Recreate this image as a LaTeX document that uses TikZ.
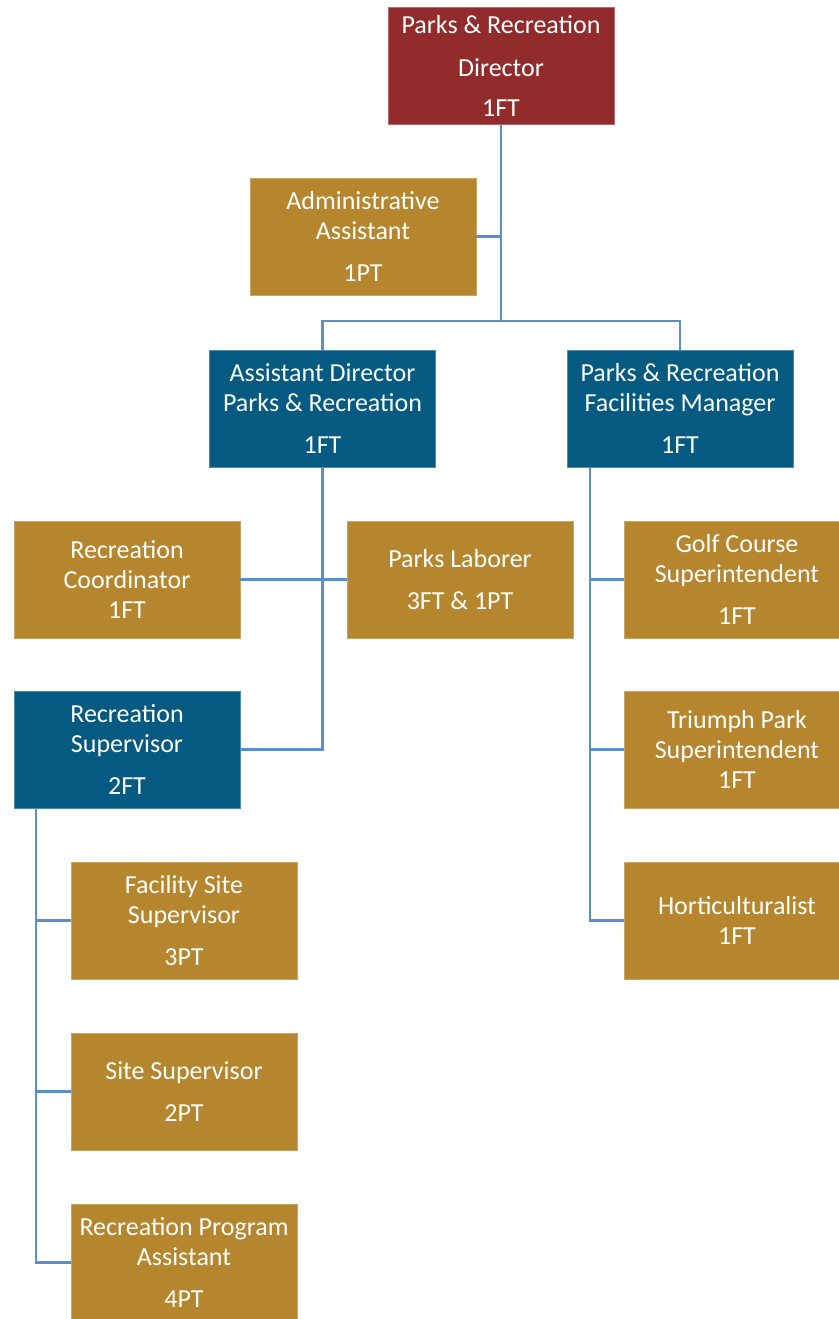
\documentclass[tikz,border=0pt]{standalone}
\usepackage{fontspec}
\setmainfont{Carlito}
\definecolor{dirred}{HTML}{922B2B}
\definecolor{mgrblue}{HTML}{045A80}
\definecolor{staffgold}{HTML}{B5862D}
\definecolor{linkblue}{HTML}{5B8FC9}
\begin{document}
\begin{tikzpicture}[x=1pt,y=-1pt,
  box/.style={rectangle, minimum width=226pt, minimum height=117pt, inner sep=0pt,
    align=center, text=white, font=\fontsize{26}{30}\selectfont, line width=0.8pt},
  redbox/.style={box, fill=dirred, draw=dirred!70!white},
  bluebox/.style={box, fill=mgrblue, draw=mgrblue!70!white},
  goldbox/.style={box, fill=staffgold, draw=staffgold!75!white},
  conn/.style={draw=linkblue, line width=2.2pt}]
\useasboundingbox (0,0) rectangle (838,1319);

% director and direct report
\node[redbox]  (dir)   at (501,66)    {Parks \& Recreation\\[13pt]Director\\[10pt]1FT};
\node[goldbox] (admin) at (363,236.5) {Administrative\\Assistant\\[12pt]1PT};

% managers
\node[bluebox] (ad) at (322.5,408.5) {Assistant Director\\Parks \& Recreation\\[12pt]1FT};
\node[bluebox] (fm) at (680,408.5)   {Parks \& Recreation\\Facilities Manager\\[12pt]1FT};

% assistant director's reports
\node[goldbox] (rc) at (127,579.5) {Recreation\\Coordinator\\1FT};
\node[goldbox] (pl) at (460,579.5) {Parks Laborer\\[12pt]3FT \& 1PT};
\node[bluebox] (rs) at (127,749.5) {Recreation\\Supervisor\\[12pt]2FT};

% recreation supervisor's reports
\node[goldbox] (fss) at (184,920.5)  {Facility Site\\Supervisor\\[12pt]3PT};
\node[goldbox] (ss)  at (184,1091.5) {Site Supervisor\\[12pt]2PT};
\node[goldbox] (rpa) at (184,1262.5) {Recreation Program\\Assistant\\[12pt]4PT};

% facilities manager's reports
\node[goldbox] (gcs)  at (737,579.5) {Golf Course\\Superintendent\\[12pt]1FT};
\node[goldbox] (tps)  at (737,749.5) {Triumph Park\\Superintendent\\1FT};
\node[goldbox] (hort) at (737,920.5) {Horticulturalist\\1FT};

% connectors
\coordinate (busy) at (0,321);
\draw[conn] (dir.south) -- (dir.south |- busy);
\draw[conn] (admin.east) -- (admin.east -| dir.south);
\draw[conn] (ad.north) |- (fm.north |- busy) -- (fm.north);

\draw[conn] (ad.south) |- (rs.east);
\draw[conn] (rc.east) -- (pl.west);

\coordinate (rsT) at ([xshift=22pt]rs.south west);
\draw[conn] (rsT) |- (rpa.west);
\draw[conn] (rsT |- fss.west) -- (fss.west);
\draw[conn] (rsT |- ss.west) -- (ss.west);

\coordinate (fmT) at ([xshift=23pt]fm.south west);
\draw[conn] (fmT) |- (hort.west);
\draw[conn] (fmT |- gcs.west) -- (gcs.west);
\draw[conn] (fmT |- tps.west) -- (tps.west);
\end{tikzpicture}
\end{document}
